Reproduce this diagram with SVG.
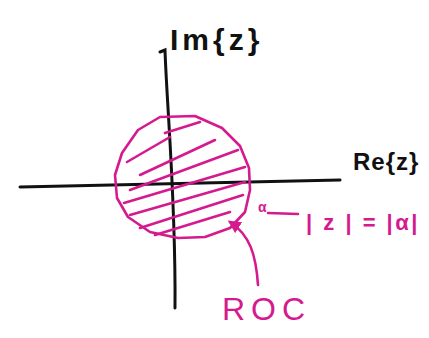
<svg xmlns="http://www.w3.org/2000/svg" width="429" height="338" viewBox="0 0 429 338">
<style>
.ax{fill:none;stroke:#111;stroke-width:3;stroke-linecap:round}
.mg{fill:none;stroke:#d41a8e;stroke-width:2.6;stroke-linecap:round;stroke-linejoin:round}
.bl{font-family:"Liberation Sans",Arial,sans-serif;fill:#111;font-weight:bold}
.mt{font-family:"Liberation Sans",Arial,sans-serif;fill:#d41a8e}
</style>
<defs>
<marker id="ah" viewBox="0 0 10 10" refX="8" refY="5" markerWidth="5" markerHeight="5" orient="auto">
<path d="M0,0 L10,5 L0,10 z" fill="#d41a8e"/>
</marker>
</defs>
<rect width="429" height="338" fill="#fff"/>
<g id="axes">
<path class="ax" d="M160,52 L165,50 C167,110 176,200 175,308"/>
<path class="ax" d="M20,187 L340,180"/>
</g>
<g id="roc-region">
<path class="mg" d="M160,117 L195,116 L222,128 L240,146 L249,168 L250,190 L245,212 L230,228 L205,237 L178,238 L150,232 L128,217 L117,198 L115,175 L122,153 L138,130 Z"/>
<path class="mg" d="M127,162 L170,137" stroke-width="4"/>
<path class="mg" d="M140,175 L215,140 M130,190 L238,150 M124,203 L245,167 M130,215 L245,182 M140,228 L243,195 M155,235 L230,212 M165,133 L200,122"/>
</g>
<g id="labels">
<text class="bl" x="170" y="50" font-size="30" letter-spacing="4">Im{z}</text>
<text class="bl" x="353" y="170" font-size="24" letter-spacing="1">Re{z}</text>
</g>
<g id="connectors">
<path class="mg" d="M258,285 C256,255 250,235 230,222" marker-end="url(#ah)"/>
<path class="mg" d="M268,213 L298,214"/>
</g>
<g id="boundary-label">
<text class="mt" x="258" y="212" font-size="14" font-weight="bold">α</text>
<text class="mt" x="306" y="230" font-size="22" font-weight="bold" letter-spacing="2.5">| z | = |α|</text>
</g>
<g id="roc-label">
<text class="mt" x="222" y="320" font-size="32" letter-spacing="6">ROC</text>
</g>
</svg>
